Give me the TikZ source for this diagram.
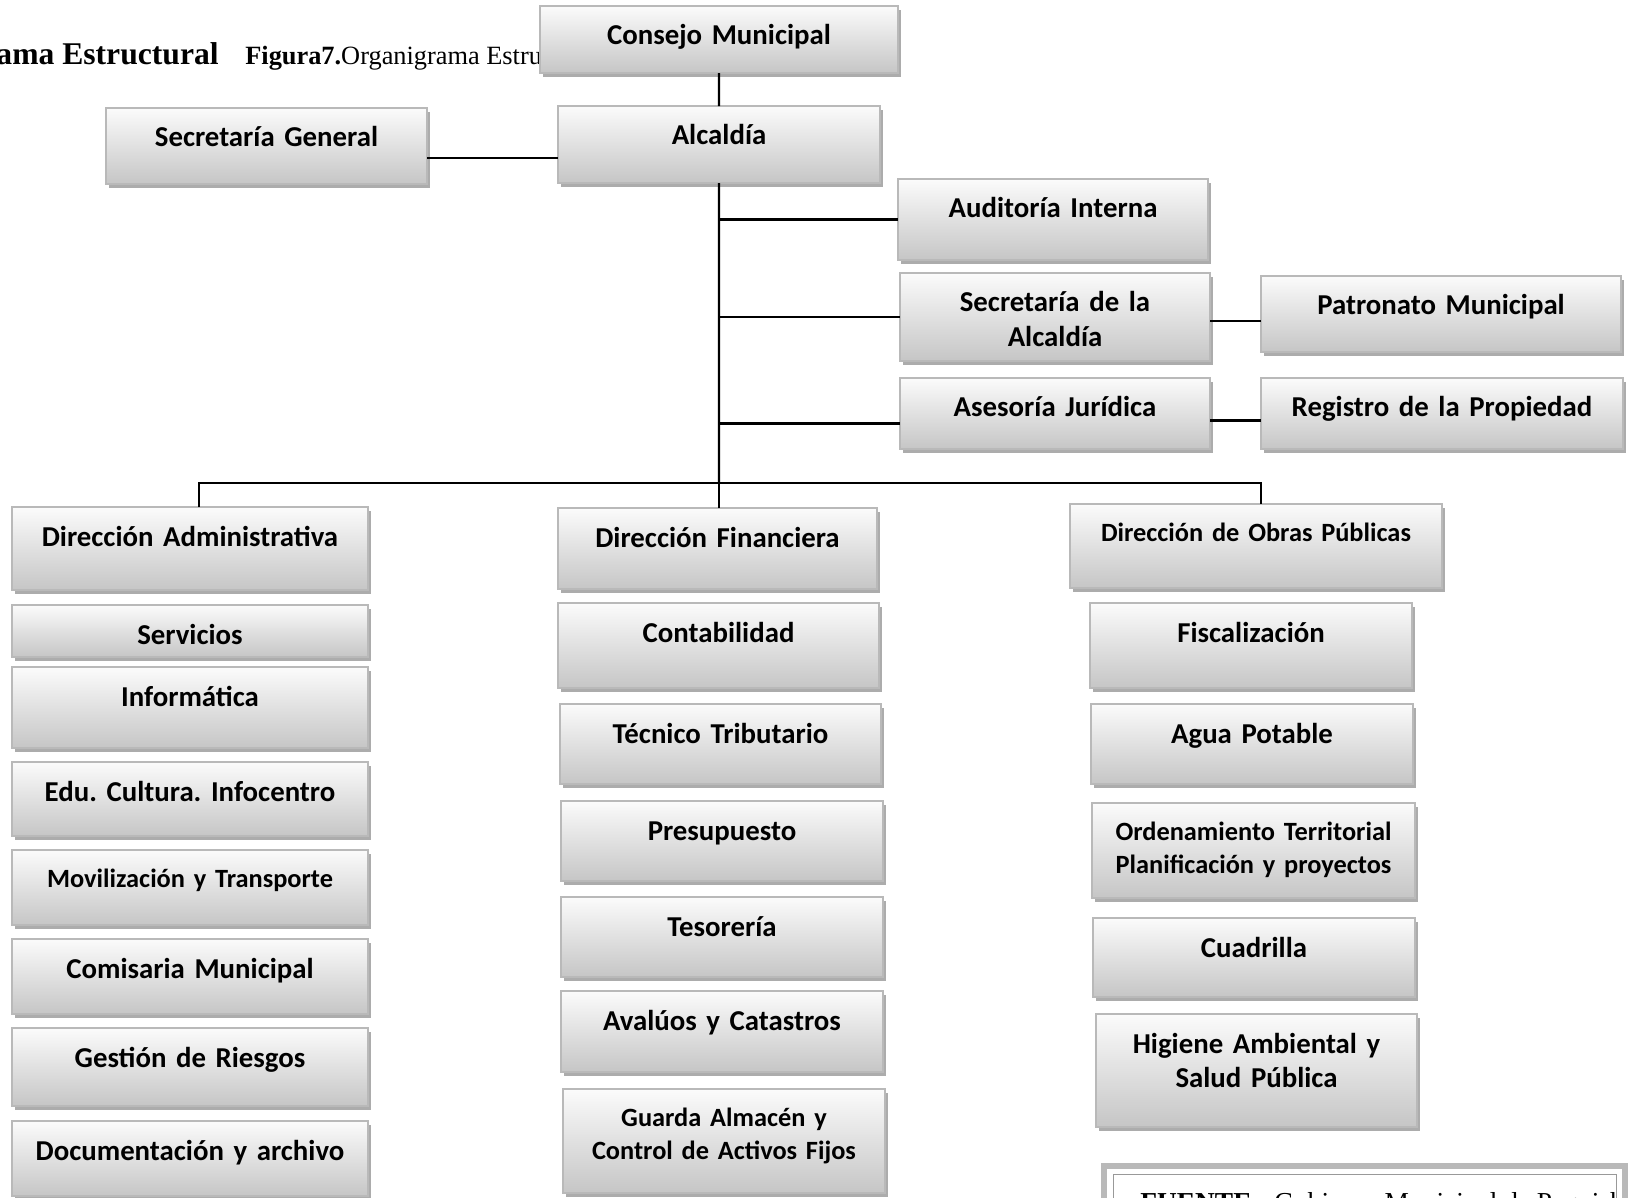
\documentclass[tikz,border=0pt]{standalone}
\usepackage{fontspec}
\setmainfont{Carlito}
\newfontfamily\romanfont{Liberation Serif}
\usetikzlibrary{shadows,calc}
\frenchspacing

\tikzset{
  unit/.style={draw=gray!55, line width=1pt, top color=gray!3, bottom color=gray!45,
    inner sep=0pt, outer sep=0pt, align=center, anchor=north west,
    font=\bfseries\fontsize{16.4}{19.9}\selectfont, text height=0.78cm,
    drop shadow={shadow xshift=0.06cm, shadow yshift=-0.08cm, fill=gray!65, opacity=1}},
  smallunit/.style={unit, font=\bfseries\fontsize{15}{18.8}\selectfont, text height=0.74cm},
  link/.style={line width=1.2pt, black},
}

% box: [style]{name}{x1}{y1}{x2}{y2}{text}, pixel units
\newcommand{\orgbox}[7][unit]{%
  \pgfmathsetmacro\boxw{(#5-#3)*0.02}%
  \pgfmathsetmacro\boxd{(#6-#4)*0.02-0.78}%
  \node[#1, text width=\boxw cm, text depth=\boxd cm] (#2) at (#3,#4) {#7};%
}

\begin{document}
\begin{tikzpicture}[x=0.02cm, y=-0.02cm]
    \useasboundingbox (0,0) rectangle (1629,1197);
    \clip (0,0) rectangle (1629,1197);

    % title, partly hidden by the top box
    \node[anchor=base east, inner sep=0pt, font=\romanfont\bfseries\fontsize{18}{21}\selectfont] (titulo) at (219,64) {Organigrama Estructural};
    \node[anchor=base west, inner sep=0pt, font=\romanfont\fontsize{15}{18}\selectfont] (figura) at (245,64) {\textbf{Figura7.}Organigrama Estructural};

    % top levels
    \orgbox{consejo}{540}{6}{898}{73}{Consejo Municipal}
    \orgbox{alcaldia}{558}{106}{880}{183}{Alcaldía}
    \orgbox{secgen}{106}{108}{427}{184}{Secretaría General}
    \orgbox{auditoria}{898}{179}{1208}{260}{Auditoría Interna}
    \orgbox{secalc}{900}{273}{1210}{361}{Secretaría de la\\Alcaldía}
    \orgbox{patronato}{1261}{276}{1621}{352}{Patronato Municipal}
    \orgbox{asesoria}{900}{378}{1210}{449}{Asesoría Jurídica}
    \orgbox{registro}{1261}{378}{1623}{449}{Registro de la Propiedad}

    % administrativa
    \orgbox{dadmin}{12}{507}{368}{590}{Dirección Administrativa}
    \orgbox{servicios}{12}{605}{368}{657}{Servicios}
    \orgbox{informatica}{12}{667}{368}{748}{Informática}
    \orgbox{educacion}{12}{762}{368}{836}{Edu. Cultura. Infocentro}
    \orgbox[smallunit]{movilizacion}{12}{850}{368}{927}{Movilización y Transporte}
    \orgbox{comisaria}{12}{939}{368}{1014}{Comisaria Municipal}
    \orgbox{riesgos}{12}{1028}{368}{1106}{Gestión de Riesgos}
    \orgbox{documentacion}{12}{1121}{368}{1196}{Documentación y archivo}

    % financiera
    \orgbox{dfin}{558}{508}{877}{589}{Dirección Financiera}
    \orgbox{contabilidad}{558}{603}{879}{688}{Contabilidad}
    \orgbox{tributario}{560}{704}{881}{784}{Técnico Tributario}
    \orgbox{presupuesto}{561}{801}{883}{881}{Presupuesto}
    \orgbox{tesoreria}{561}{897}{883}{977}{Tesorería}
    \orgbox{avaluos}{561}{991}{883}{1072}{Avalúos y Catastros}
    \orgbox[smallunit]{guarda}{563}{1089}{885}{1195}{Guarda Almacén y\\Control de Activos Fijos}

    % obras publicas
    \orgbox[smallunit]{dobras}{1070}{504}{1442}{590}{Dirección de Obras Públicas}
    \orgbox{fiscalizacion}{1090}{603}{1412}{688}{Fiscalización}
    \orgbox{agua}{1091}{704}{1413}{784}{Agua Potable}
    \orgbox[smallunit]{ordenamiento}{1092}{803}{1415}{900}{Ordenamiento Territorial\\Planificación y proyectos}
    \orgbox{cuadrilla}{1093}{918}{1415}{997}{Cuadrilla}
    \orgbox{higiene}{1096}{1014}{1417}{1127}{Higiene Ambiental y\\Salud Pública}

    % connectors
    \coordinate (bus) at (719,483);
    \coordinate (busL) at (199,483);
    \coordinate (busR) at (1261,483);
    \coordinate (sgj) at ($(secgen.east)+(0,12)$);
    \coordinate (asj) at ($(asesoria.west)+(0,10)$);
    \coordinate (patj) at ($(patronato.west)+(0,7)$);
    \coordinate (regj) at ($(registro.west)+(0,7)$);

    \draw[link] (consejo.south) -- (alcaldia.north);
    \draw[link] (sgj) -- (sgj -| alcaldia.west);
    \draw[link] (alcaldia.south) -- (bus);
    \draw[link] (bus |- auditoria.west) -- (auditoria.west);
    \draw[link] (bus |- secalc.west) -- (secalc.west);
    \draw[link] (bus |- asj) -- (asj);
    \draw[link] (patj -| secalc.east) -- (patj);
    \draw[link] (regj -| asesoria.east) -- (regj);
    \draw[link] (busL |- dadmin.north) -- (busL) -- (busR) -- (busR |- dobras.north);
    \draw[link] (bus) -- (bus |- dfin.north);

    % source box
    \draw[line width=0.12cm, gray!55] (1104,1166) rectangle (1625,1260);
    \draw[line width=0.5pt, gray!80] (1113,1174) rectangle (1616,1250);
    \begin{scope}
        \clip (1113,1174) rectangle (1616,1250);
        \node[anchor=base west, inner sep=0pt, font=\romanfont\fontsize{15.6}{18}\selectfont] (fuente) at (1140,1211) {\textbf{FUENTE.-} Gobierno Municipal de Paquisha};
    \end{scope}
\end{tikzpicture}
\end{document}
